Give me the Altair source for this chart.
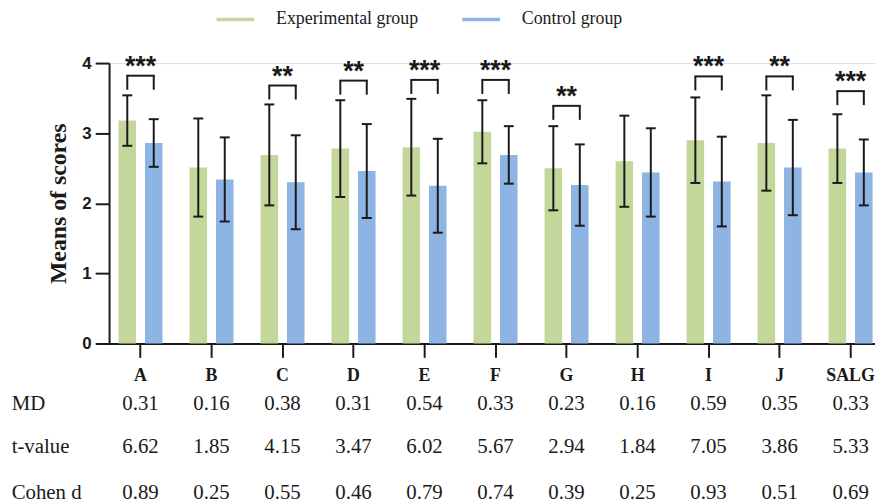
import altair as alt
import pandas as pd

categories = ["A", "B", "C", "D", "E", "F", "G", "H", "I", "J", "SALG"]
groups = ["Experimental group", "Control group"]
colors = ["#C4D79B", "#8DB4E2"]

exp_mean = [3.18, 2.51, 2.69, 2.78, 2.80, 3.02, 2.50, 2.60, 2.90, 2.86, 2.78]
exp_sd = [0.36, 0.70, 0.72, 0.69, 0.69, 0.45, 0.60, 0.65, 0.61, 0.68, 0.49]
ctl_mean = [2.86, 2.34, 2.30, 2.46, 2.25, 2.69, 2.26, 2.44, 2.31, 2.51, 2.44]
ctl_sd = [0.34, 0.60, 0.67, 0.67, 0.67, 0.41, 0.58, 0.63, 0.64, 0.68, 0.47]

sig_stars = ["***", "", "**", "**", "***", "***", "**", "", "***", "**", "***"]
bracket_y = [3.82, None, 3.68, 3.75, 3.76, 3.76, 3.39, None, 3.81, 3.81, 3.60]
bracket_leg = 0.2

row_labels = ["MD", "t-value", "Cohen d"]
md_values = ["0.31", "0.16", "0.38", "0.31", "0.54", "0.33", "0.23", "0.16", "0.59", "0.35", "0.33"]
t_values = ["6.62", "1.85", "4.15", "3.47", "6.02", "5.67", "2.94", "1.84", "7.05", "3.86", "5.33"]
cohen_d = ["0.89", "0.25", "0.55", "0.46", "0.79", "0.74", "0.39", "0.25", "0.93", "0.51", "0.69"]

# ---- tables built from the lists ----
exp_df = pd.DataFrame({
    "category": categories,
    "group": groups[0],
    "mean": exp_mean,
    "lo": [m - s for m, s in zip(exp_mean, exp_sd)],
    "hi": [m + s for m, s in zip(exp_mean, exp_sd)],
})
ctl_df = pd.DataFrame({
    "category": categories,
    "group": groups[1],
    "mean": ctl_mean,
    "lo": [m - s for m, s in zip(ctl_mean, ctl_sd)],
    "hi": [m + s for m, s in zip(ctl_mean, ctl_sd)],
})
sig_df = pd.DataFrame({
    "category": categories,
    "stars": sig_stars,
    "by": bracket_y,
})
sig_df = sig_df[sig_df["stars"] != ""].copy()
sig_df["leg"] = sig_df["by"] - bracket_leg

table_df = pd.DataFrame({
    "category": categories,
    "md": md_values,
    "t": t_values,
    "d": cohen_d,
})

BAR_W = 17.7
OFF = 13.35
INK = "#1a1a1a"
ROW_Y = [350.4, 393.7, 440.4]  # baselines of the table rows, in px below the plot top

xscale = alt.Scale(domain=categories, range=[-4.1, 784.2], paddingInner=0, paddingOuter=0)
yscale = alt.Scale(domain=[0, 4], nice=False, zero=True)

xaxis = alt.Axis(
    title=None, labelAngle=0, tickSize=14, tickWidth=2, domainWidth=2,
    domainColor=INK, tickColor=INK, labelColor=INK,
    labelFont="Liberation Serif", labelFontWeight="bold", labelFontSize=18,
    labelPadding=9,
)
yaxis = alt.Axis(
    values=[0, 1, 2, 3, 4], format="d", grid=False,
    tickSize=14, tickWidth=2, domainWidth=2,
    domainColor=INK, tickColor=INK, labelColor=INK,
    labelFont="Liberation Sans", labelFontWeight="bold", labelFontSize=17,
    labelPadding=4,
    title="Means of scores", titleFont="Liberation Serif", titleFontWeight="bold",
    titleFontSize=24, titleColor=INK, titlePadding=12,
)
cscale = alt.Scale(domain=groups, range=colors)
legend = alt.Legend(
    title=None, orient="none", legendX=108.5, legendY=-63, direction="horizontal",
    symbolType="M-1,-0.09L1,-0.09L1,0.09L-1,0.09Z", symbolSize=1444,
    symbolStrokeWidth=0, labelFont="Liberation Serif", labelFontSize=18,
    labelColor=INK, labelOffset=22, columnPadding=44, padding=0,
)

X = alt.X("category:N", scale=xscale, axis=xaxis, sort=categories)
Y = alt.Y("mean:Q", scale=yscale, axis=yaxis)
XC = alt.X("category:N", sort=categories)

bars_exp = alt.Chart(exp_df).mark_bar(width=BAR_W, xOffset=-OFF).encode(
    x=X, y=Y, color=alt.Color("group:N", scale=cscale, legend=legend)
)
bars_ctl = alt.Chart(ctl_df).mark_bar(width=BAR_W, xOffset=OFF).encode(
    x=X, y=Y, color=alt.Color("group:N", scale=cscale, legend=legend)
)


def errorbars(df, off):
    base = alt.Chart(df)
    stem = base.mark_rule(xOffset=off, strokeWidth=2, color=INK).encode(
        x=XC, y=alt.Y("lo:Q"), y2="hi:Q"
    )
    cap_lo = base.mark_tick(orient="horizontal", size=10, thickness=2, xOffset=off, color=INK, opacity=1).encode(
        x=XC, y=alt.Y("lo:Q")
    )
    cap_hi = base.mark_tick(orient="horizontal", size=10, thickness=2, xOffset=off, color=INK, opacity=1).encode(
        x=XC, y=alt.Y("hi:Q")
    )
    return [stem, cap_lo, cap_hi]


sig_base = alt.Chart(sig_df)
bracket_top = sig_base.mark_tick(orient="horizontal", size=2 * OFF + 2, thickness=2, color=INK, opacity=1).encode(
    x=XC, y=alt.Y("by:Q")
)
leg_l = sig_base.mark_rule(xOffset=-OFF, strokeWidth=2, color=INK).encode(
    x=XC, y=alt.Y("by:Q"), y2="leg:Q"
)
leg_r = sig_base.mark_rule(xOffset=OFF, strokeWidth=2, color=INK).encode(
    x=XC, y=alt.Y("by:Q"), y2="leg:Q"
)
stars = sig_base.mark_text(
    font="Liberation Sans", fontWeight="bold", fontSize=27, color=INK,
    baseline="alphabetic", align="center", dy=-1,
).encode(x=XC, y=alt.Y("by:Q"), text="stars:N")

table_base = alt.Chart(table_df)
TFONT = dict(font="Liberation Serif", fontSize=21, color=INK, baseline="alphabetic", align="center")
rows = []
for field, ry in zip(["md", "t", "d"], ROW_Y):
    rows.append(table_base.mark_text(**TFONT).encode(
        x=XC, y=alt.value(ry), text=f"{field}:N"))

names = []
for label, ry in zip(row_labels, ROW_Y):
    names.append(alt.Chart(pd.DataFrame({"label": [label]})).mark_text(
        font="Liberation Serif", fontSize=21, color=INK, baseline="alphabetic", align="left"
    ).encode(x=alt.value(-98.3), y=alt.value(ry), text="label:N"))

chart = alt.layer(
    bars_exp, bars_ctl,
    *errorbars(exp_df, -OFF), *errorbars(ctl_df, OFF),
    bracket_top, leg_l, leg_r, stars,
    *rows, *names,
).properties(
    width=773, height=283,
    autosize=alt.AutoSizeParams(type="none"),
    padding={"left": 102, "top": 53.3, "right": 0, "bottom": 159.7},
).configure_view(stroke=None).configure(background="white")

chart.save("out.html", embed_options={"renderer": "svg", "actions": False})
